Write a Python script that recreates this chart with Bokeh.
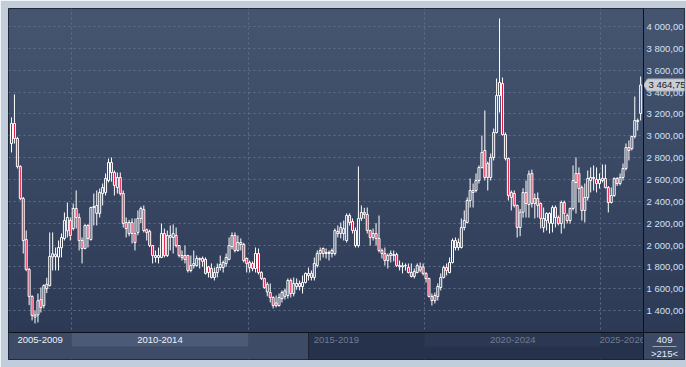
import numpy as np
from bokeh.plotting import figure
from bokeh.models import Range1d, ColumnDataSource, Grid, FixedTicker, Span
from bokeh.core.properties import value
from bokeh.embed import file_html
from bokeh.resources import INLINE

# ---------------- data (monthly candles, first bar = April 2008) ----------------
start_year, start_month = 2008, 4

opens = [
    2929, 3112, 2975, 2719, 2426, 2050, 1776, 1529, 1340, 1360,
    1500, 1446, 1600, 1629, 1890, 1915, 1890, 1975, 2060, 2130,
    2224, 2151, 2334, 2252, 2041, 1968, 2179, 2050, 2343, 2290,
    2289, 2471, 2481, 2590, 2755, 2664, 2526, 2618, 2471, 2206,
    2105, 2206, 2105, 2115, 2243, 2325, 2140, 2124, 1995, 1904,
    1886, 1886, 2105, 1904, 2070, 2069, 2087, 1995, 1886, 1904,
    1904, 1767, 1812, 1812, 1868, 1877, 1868, 1800, 1785, 1703,
    1748, 1794, 1794, 1831, 1868, 1986, 2087, 1950, 2023, 2005,
    1877, 1840, 1831, 1785, 1922, 1748, 1694, 1570, 1565, 1520,
    1470, 1446, 1510, 1530, 1538, 1675, 1556, 1620, 1648, 1620,
    1657, 1720, 1740, 1703, 1812, 1922, 1968, 1922, 1932, 1922,
    1922, 2124, 2105, 2105, 2041, 2270, 2215, 2133, 1995, 2243,
    2298, 2280, 2133, 2069, 2105, 2060, 1950, 1922, 1858, 1904,
    1904, 1913, 1800, 1800, 1810, 1794, 1748, 1712, 1748, 1770,
    1800, 1740, 1694, 1529, 1492, 1529, 1611, 1703, 1794, 1748,
    1840, 2041, 1977, 1977, 2160, 2206, 2407, 2481, 2499, 2590,
    2709, 2865, 2746, 2618, 2801, 3030, 3368, 3478, 3011, 2792,
    2481, 2471, 2362, 2160, 2300, 2480, 2370, 2655, 2380, 2426,
    2380, 2160, 2224, 2200, 2197, 2343, 2252, 2197, 2389, 2270,
    2224, 2334, 2655, 2655, 2526, 2316, 2435, 2590, 2618, 2600,
    2563, 2590, 2609, 2526, 2389, 2453, 2609, 2563, 2618, 2700,
    2892, 2883, 2993, 3130, 3204,
]
highs = [
    3167, 3378, 2990, 2730, 2440, 2133, 1790, 1540, 1400, 1556,
    1611, 1640, 1700, 2115, 2115, 1977, 2041, 2105, 2298, 2389,
    2252, 2380, 2499, 2289, 2069, 2190, 2190, 2350, 2471, 2499,
    2517, 2563, 2655, 2792, 2801, 2682, 2664, 2664, 2499, 2252,
    2230, 2243, 2243, 2316, 2352, 2362, 2150, 2140, 2000, 1950,
    1977, 2197, 2151, 2133, 2179, 2188, 2160, 2000, 1950, 1995,
    1910, 1904, 1950, 1904, 1886, 1895, 1886, 1810, 1831, 1794,
    1831, 1904, 1858, 1922, 2069, 2115, 2115, 2087, 2060, 2020,
    1886, 1858, 1850, 1977, 1968, 1760, 1700, 1660, 1648, 1530,
    1538, 1556, 1584, 1600, 1694, 1694, 1703, 1694, 1675, 1721,
    1748, 1794, 1767, 1886, 1950, 1977, 1977, 1968, 1950, 1968,
    2151, 2179, 2206, 2224, 2289, 2289, 2243, 2160, 2719, 2362,
    2340, 2343, 2140, 2151, 2200, 2270, 1968, 1977, 1922, 1950,
    1950, 1930, 1858, 1840, 1831, 1831, 1831, 1785, 1831, 1840,
    1831, 1750, 1700, 1556, 1565, 1648, 1740, 1812, 1831, 1886,
    2060, 2069, 2060, 2243, 2316, 2435, 2609, 2563, 2655, 2728,
    3002, 3231, 2764, 2838, 3066, 3524, 4073, 3533, 3030, 2800,
    2499, 2499, 2370, 2330, 2520, 2590, 2682, 2690, 2471, 2481,
    2390, 2343, 2298, 2300, 2362, 2362, 2270, 2407, 2407, 2289,
    2343, 2728, 2801, 2710, 2545, 2563, 2682, 2710, 2728, 2710,
    2655, 2737, 2737, 2540, 2526, 2618, 2620, 2655, 2746, 2929,
    2957, 3002, 3359, 3158, 3542,
]
lows = [
    2847, 2929, 2700, 2410, 1922, 1760, 1450, 1309, 1282, 1291,
    1382, 1420, 1560, 1620, 1767, 1767, 1767, 1886, 2041, 2069,
    2041, 2133, 2151, 1950, 1831, 1960, 1977, 2040, 2179, 2179,
    2252, 2362, 2453, 2572, 2580, 2453, 2471, 2453, 2160, 2069,
    2080, 2014, 1950, 2090, 2200, 2115, 2041, 1980, 1831, 1840,
    1831, 1880, 1886, 1890, 1950, 1922, 1977, 1886, 1858, 1831,
    1748, 1750, 1785, 1800, 1785, 1800, 1730, 1703, 1694, 1675,
    1703, 1767, 1748, 1800, 1860, 1960, 1932, 1940, 1950, 1840,
    1748, 1748, 1760, 1748, 1730, 1680, 1600, 1530, 1474, 1419,
    1428, 1435, 1474, 1500, 1510, 1520, 1530, 1590, 1584, 1556,
    1648, 1675, 1675, 1675, 1794, 1858, 1886, 1877, 1858, 1886,
    1904, 2069, 2060, 2041, 2023, 2179, 2105, 1977, 1977, 2220,
    2240, 2105, 1995, 2041, 1995, 1932, 1877, 1812, 1785, 1840,
    1850, 1800, 1767, 1740, 1767, 1740, 1703, 1694, 1740, 1750,
    1721, 1657, 1520, 1446, 1465, 1492, 1584, 1694, 1721, 1740,
    1831, 1950, 1950, 1968, 2133, 2197, 2343, 2343, 2481, 2563,
    2700, 2590, 2499, 2590, 2774, 3021, 3213, 3002, 2774, 2407,
    2316, 2343, 2069, 2080, 2250, 2252, 2250, 2343, 2243, 2252,
    2151, 2115, 2133, 2105, 2115, 2160, 2179, 2105, 2151, 2197,
    2197, 2316, 2289, 2389, 2224, 2206, 2407, 2481, 2499, 2481,
    2517, 2572, 2517, 2298, 2380, 2440, 2540, 2545, 2590, 2682,
    2774, 2865, 2975, 3048, 3140,
]
closes = [
    3112, 2975, 2719, 2426, 2041, 1776, 1529, 1355, 1360, 1490,
    1428, 1629, 1640, 1895, 1920, 1895, 1977, 2069, 2224, 2252,
    2087, 2334, 2252, 2041, 1968, 2179, 2060, 2343, 2352, 2362,
    2481, 2526, 2609, 2755, 2664, 2545, 2618, 2471, 2197, 2151,
    2206, 2105, 2023, 2243, 2334, 2133, 2115, 1995, 1904, 1886,
    1904, 2105, 1904, 2087, 2087, 2105, 1995, 1904, 1904, 1868,
    1767, 1812, 1830, 1877, 1877, 1850, 1740, 1748, 1703, 1748,
    1794, 1822, 1840, 1886, 1995, 2087, 1950, 2023, 2005, 1858,
    1831, 1794, 1785, 1922, 1748, 1694, 1611, 1640, 1520, 1446,
    1446, 1520, 1565, 1580, 1675, 1556, 1648, 1648, 1620, 1657,
    1740, 1740, 1703, 1831, 1922, 1950, 1922, 1932, 1922, 1950,
    2133, 2105, 2160, 2150, 2270, 2206, 2133, 1995, 2243, 2298,
    2280, 2133, 2069, 2105, 2060, 1950, 1922, 1858, 1904, 1922,
    1913, 1812, 1812, 1810, 1812, 1748, 1712, 1757, 1812, 1800,
    1740, 1694, 1529, 1492, 1538, 1620, 1703, 1794, 1767, 1840,
    2041, 1977, 2023, 2160, 2224, 2407, 2499, 2499, 2590, 2709,
    2847, 2618, 2618, 2801, 3030, 3368, 3487, 3011, 2792, 2453,
    2435, 2362, 2160, 2300, 2480, 2380, 2650, 2380, 2426, 2362,
    2243, 2243, 2289, 2289, 2343, 2252, 2197, 2389, 2289, 2224,
    2334, 2590, 2572, 2517, 2316, 2435, 2609, 2618, 2609, 2563,
    2600, 2609, 2526, 2389, 2453, 2609, 2563, 2618, 2700, 2892,
    2865, 2993, 3140, 3140, 3464.75,
]

price_ticks = [1400, 1600, 1800, 2000, 2200, 2400, 2600, 2800, 3000, 3200, 3400, 3600, 3800, 4000]
price_tick_labels = ["1 400,00", "1 600,00", "1 800,00", "2 000,00", "2 200,00", "2 400,00", "2 600,00",
                     "2 800,00", "3 000,00", "3 200,00", "3 400,00", "3 600,00", "3 800,00", "4 000,00"]
last_price_text = "3 464,75"
period_labels = ["2005-2009", "2010-2014", "2015-2019", "2020-2024", "2025-2026"]
period_start_years = [2005, 2010, 2015, 2020, 2025]
bars_total_text = "409"
bars_visible_text = ">215<"

# ---------------- layout (pixels of the 686x367 window) ----------------
W, H = 686, 367
PANEL_L, PANEL_T, PANEL_R, PANEL_B = 8, 8, 684, 359
PLOT_R, PLOT_B, BAND_MID = 643, 332, 346
BAR0_PX, BAR_PX = 11.0, 2.94
YREF_PX, YREF_VAL, PX_PER_UNIT = 26.0, 4000.0, 21.85 / 200.0
FONT = value("Liberation Sans")


def xv(px):
    return (px - BAR0_PX) / BAR_PX


def yv(py):
    return YREF_VAL - (py - YREF_PX) / PX_PER_UNIT


p = figure(width=W, height=H,
           x_range=Range1d(xv(PANEL_L), xv(PANEL_R)),
           y_range=Range1d(yv(PANEL_B), yv(PANEL_T)),
           output_backend="svg", toolbar_location=None,
           x_axis_location=None, y_axis_location=None,
           min_border_left=PANEL_L, min_border_top=PANEL_T,
           min_border_right=W - PANEL_R, min_border_bottom=H - PANEL_B,
           border_fill_color="#c2cddc", background_fill_color="#38465f",
           outline_line_color="#141a26", outline_line_width=1)
# remove the default grids; dashed grids are added below
for g in list(p.renderers) + list(p.center):
    if isinstance(g, Grid):
        g.visible = False

# vertical gradient background
N = 256
frac = np.linspace(0.0, 1.0, N)[:, None]  # row 0 = bottom
top_rgb = np.array([70, 86, 113], dtype=float)
bot_rgb = np.array([43, 56, 84], dtype=float)
rgb = (bot_rgb + (top_rgb - bot_rgb) * frac).astype(np.uint8)
grad = np.empty((N, 1), dtype=np.uint32)
gv = grad.view(dtype=np.uint8).reshape((N, 1, 4))
gv[:, 0, 0:3] = rgb
gv[:, 0, 3] = 255
p.image_rgba(image=[grad], x=xv(PANEL_L), y=yv(PANEL_B), dw=xv(PANEL_R) - xv(PANEL_L),
             dh=yv(PANEL_T) - yv(PANEL_B), level="image")

# dashed grid
year_bounds = [(y - start_year) * 12 - (start_month - 1) - 0.5 for y in period_start_years[1:]]
p.add_layout(Grid(dimension=1, ticker=FixedTicker(ticks=price_ticks),
                  grid_line_color="#5f6f8b", grid_line_dash="2 3", grid_line_width=1))
p.add_layout(Grid(dimension=0, ticker=FixedTicker(ticks=year_bounds),
                  grid_line_color="#5f6f8b", grid_line_dash="2 3", grid_line_width=1))

# candles
o = np.array(opens, dtype=float)
h = np.array(highs, dtype=float)
lo = np.array(lows, dtype=float)
c = np.array(closes, dtype=float)
idx = np.arange(len(c))
up = c >= o
btop = np.maximum(o, c)
bbot = np.minimum(o, c)
src = ColumnDataSource(dict(x=idx, h=h, l=lo, btop=btop, bbot=bbot,
                            fill=np.where(up, "#ffffff", "#e0103c"),
                            falpha=np.where(up, 0.0, 1.0)))
p.segment(x0="x", y0="btop", x1="x", y1="h", source=src, line_color="white", line_width=1)
p.segment(x0="x", y0="l", x1="x", y1="bbot", source=src, line_color="white", line_width=1)
p.vbar(x="x", width=0.68, top="btop", bottom="bbot", source=src,
       fill_color="fill", fill_alpha="falpha", line_color="white", line_width=1)

# right price-axis area (hides grid lines)
p.image_rgba(image=[grad], x=xv(PLOT_R), y=yv(PANEL_B), dw=xv(PANEL_R) - xv(PLOT_R),
             dh=yv(PANEL_T) - yv(PANEL_B))

# bottom period band
bx_l = xv(PANEL_L)
bx_split = xv(308)
bx_r = xv(PLOT_R)
p.quad(left=[bx_l, bx_split, year_bounds[0], year_bounds[2]],
       right=[bx_split, bx_r, year_bounds[1], year_bounds[3]],
       bottom=[yv(PANEL_B), yv(PANEL_B), yv(BAND_MID), yv(BAND_MID)],
       top=[yv(PLOT_B)] * 4,
       fill_color=["#3d4b66", "#26324b", "#4b5a76", "#2c3853"], line_color=None)
p.segment(x0=[bx_split], y0=[yv(PANEL_B)], x1=[bx_split], y1=[yv(PLOT_B)], line_color="#1b2232", line_width=1)

edges = [xv(PANEL_L)] + year_bounds + [xv(PLOT_R)]
centers = [(a + b) / 2 for a, b in zip(edges[:-1], edges[1:])]
label_colors = ["#eef3fa", "#eef3fa", "#6f7c94", "#6f7c94", "#6f7c94"]
p.text(x=centers, y=[yv(339.5)] * len(centers), text=period_labels, text_color=label_colors,
       text_align="center", text_baseline="middle", text_font=FONT, text_font_size="9.5px")

# bottom-right counter box
p.quad(left=[xv(PLOT_R)], right=[xv(PANEL_R)], bottom=[yv(PANEL_B)], top=[yv(PLOT_B)],
       fill_color="#3b4964", line_color=None)
p.text(x=[xv(664)] * 2, y=[yv(339.5), yv(353)], text=[bars_total_text, bars_visible_text],
       text_color="#e8eef6", text_align="center", text_baseline="middle",
       text_font=FONT, text_font_size="9.5px")
p.segment(x0=[xv(652)], y0=[yv(346)], x1=[xv(676)], y1=[yv(346)], line_color="#9aa6b8", line_width=1)

# separators
p.add_layout(Span(location=xv(PLOT_R), dimension="height", line_color="#0d1119", line_width=1))
p.add_layout(Span(location=yv(PLOT_B), dimension="width", line_color="#0d1119", line_width=1))

# price labels
p.text(x=[xv(646)] * len(price_ticks), y=price_ticks, text=price_tick_labels,
       text_color="#d2e2f6", text_align="left", text_baseline="middle",
       text_font=FONT, text_font_size="9.5px")

# last price tag
lp = closes[-1]
tag_x = [xv(643), xv(647), xv(PANEL_R), xv(PANEL_R), xv(647)]
tag_y = [lp, lp + 6 / PX_PER_UNIT, lp + 6 / PX_PER_UNIT, lp - 6 / PX_PER_UNIT, lp - 6 / PX_PER_UNIT]
p.patch(x=tag_x, y=tag_y, fill_color="#c9cdd5", line_color="#aeb4bf", line_width=1)
p.text(x=[xv(648)], y=[lp], text=[last_price_text], text_color="#141821",
       text_align="left", text_baseline="middle", text_font=FONT, text_font_size="9.5px")

open("out.html", "w").write(file_html(p, INLINE))
